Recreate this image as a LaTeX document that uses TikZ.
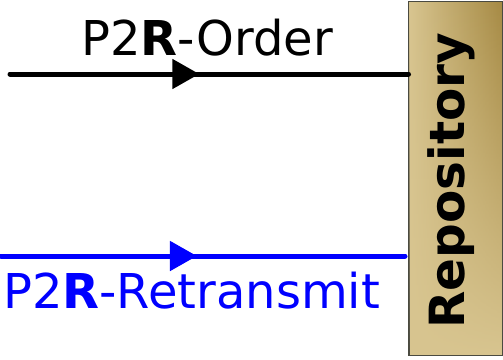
\documentclass[tikz,border=0pt]{standalone}
\usepackage{fontspec}
\setmainfont{DejaVu Sans}
\usetikzlibrary{arrows.meta,decorations.markings,fadings}
\definecolor{repolight}{HTML}{D8C590}
\definecolor{repodark}{HTML}{A68A44}
\definecolor{repoedge}{HTML}{4A4A40}
\tikzset{
  flow/.style={line width=5pt, line cap=round},
  midarrow/.style={postaction={decorate}, decoration={markings,
    mark=at position #1 with {\arrow{Triangle[length=27pt,width=29pt]}}}},
  label/.style={font=\fontsize{48}{48}\selectfont, inner sep=0pt, anchor=base},
  repobox/.style={draw=repoedge, line width=1pt, minimum width=93pt,
    minimum height=353pt, inner sep=0pt}
}
\begin{document}
\begin{tikzpicture}[x=1pt,y=-1pt]
  \useasboundingbox (0,0) rectangle (503,359);
  % repository block with its gold gradient
  \node[repobox, fill=repolight] (repo) at (455.5,178.5) {};
  \shade[left color=repolight, right color=repodark, path fading=south]
    (repo.south west) rectangle (repo.north east);
  \draw[repoedge, line width=1pt] (repo.south west) rectangle (repo.north east);
  \node[font=\bfseries\fontsize{48.5}{48.5}\selectfont, rotate=90, inner sep=0pt,
    anchor=base] (repotext) at (464,180.5) {Repository};
  % order flow
  \coordinate (ordstart) at (10,74);
  \draw[flow, midarrow=0.475] (ordstart) -- (ordstart -| repo.west);
  \node[label] (ordlabel) at (207,55) {P2\textbf{R}-Order};
  % retransmit flow
  \coordinate (retstart) at (1,256);
  \coordinate (retend) at (405,256);
  \draw[flow, blue, midarrow=0.485] (retstart) -- (retend);
  \node[label, text=blue] (retlabel) at (191.5,308) {P2\textbf{R}-Retransmit};
\end{tikzpicture}
\end{document}
